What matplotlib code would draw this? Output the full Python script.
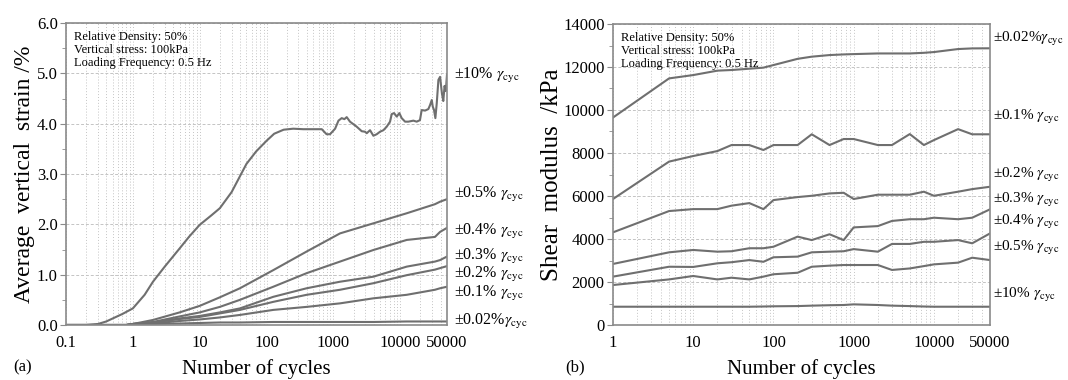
import matplotlib
matplotlib.use("Agg")
import matplotlib.pyplot as plt
from matplotlib.ticker import FixedLocator, LogLocator, NullFormatter, MultipleLocator
import matplotlib.transforms as mtransforms

plt.rcParams['font.family'] = ['Liberation Serif', 'DejaVu Serif']
plt.rcParams['mathtext.fontset'] = 'stix'

# (a) average vertical strain vs number of cycles
n_10 = [0.1, 0.2, 0.3, 0.4, 0.5, 0.7, 1, 1.5, 2, 3, 5, 7, 10, 15, 20, 30, 50, 70, 100, 130,
        180, 250, 355, 670, 790, 890, 1060, 1190, 1330, 1460, 1580, 1770, 2230, 2650, 2970,
        3150, 3530, 3960, 4440, 4980, 5590, 6270, 7030, 7450, 8070, 8850, 9690, 10500, 11800,
        13200, 15700, 17600, 19700, 20900, 23500, 26300, 27900, 29600, 30600, 32000, 33500,
        35100, 37200, 39400, 42000, 44000, 46000, 48000, 50000]
strain_10 = [0, 0, 0.02, 0.07, 0.13, 0.22, 0.33, 0.6, 0.86, 1.16, 1.52, 1.76, 1.99, 2.18, 2.32,
             2.64, 3.2, 3.45, 3.66, 3.8, 3.88, 3.9, 3.89, 3.89, 3.79, 3.79, 3.9, 4.06, 4.11,
             4.09, 4.13, 4.04, 3.94, 3.85, 3.84, 3.81, 3.87, 3.76, 3.79, 3.84, 3.87, 3.94, 4.04,
             4.19, 4.21, 4.14, 4.21, 4.11, 4.04, 4.04, 4.06, 4.04, 4.07, 4.27, 4.26, 4.29, 4.37,
             4.47, 4.34, 4.27, 4.11, 4.4, 4.87, 4.93, 4.6, 4.45, 4.75, 4.65, 4.98]

n_small = [0.1, 0.5, 0.8, 1, 2, 5, 10, 20, 40, 126, 398, 1256, 3960, 12500, 33000, 39400, 50000]
strain_05 = [0, 0, 0, 0.02, 0.1, 0.25, 0.38, 0.55, 0.73, 1.09, 1.46, 1.82, 2.02, 2.22, 2.40, 2.45, 2.5]
strain_04 = [0, 0, 0, 0.02, 0.06, 0.17, 0.25, 0.36, 0.50, 0.76, 1.03, 1.26, 1.49, 1.69, 1.75, 1.85, 1.93]
strain_03 = [0, 0, 0, 0.02, 0.05, 0.13, 0.18, 0.25, 0.33, 0.56, 0.73, 0.86, 0.96, 1.16, 1.26, 1.29, 1.36]
strain_02 = [0, 0, 0, 0.02, 0.05, 0.12, 0.16, 0.23, 0.30, 0.46, 0.60, 0.70, 0.83, 0.99, 1.10, 1.13, 1.17]
strain_01 = [0, 0, 0, 0.01, 0.03, 0.08, 0.11, 0.15, 0.20, 0.30, 0.36, 0.43, 0.53, 0.60, 0.70, 0.73, 0.76]
strain_002 = [0, 0, 0, 0.01, 0.02, 0.03, 0.04, 0.05, 0.05, 0.06, 0.06, 0.06, 0.06, 0.07, 0.07, 0.07, 0.07]

labels_a = ['±10% ', '±0.5% ', '±0.4% ', '±0.3% ', '±0.2% ', '±0.1% ', '±0.02%']
label_y_a = [4.95, 2.6, 1.86, 1.36, 1.0, 0.62, 0.06]

# (b) shear modulus vs number of cycles
n_g = [1, 5, 10, 20, 30, 50, 75, 100, 200, 300, 500, 750, 1000, 2000, 3000, 5000, 7500,
       10000, 20000, 30000, 50000]
g_002 = [9650, 11470, 11625, 11830, 11860, 11920, 11970, 12090, 12380, 12480, 12555, 12585,
         12600, 12630, 12630, 12630, 12660, 12695, 12835, 12865, 12870]
g_01 = [5860, 7600, 7860, 8090, 8370, 8370, 8140, 8370, 8370, 8870, 8370, 8650, 8650, 8370,
        8370, 8880, 8370, 8600, 9110, 8870, 8870]
g_02 = [4310, 5300, 5390, 5390, 5550, 5670, 5390, 5810, 5950, 6010, 6120, 6150, 5860, 6060,
        6060, 6060, 6200, 6010, 6200, 6320, 6430]
g_03 = [2840, 3380, 3490, 3410, 3430, 3570, 3570, 3640, 4110, 3950, 4220, 3950, 4540, 4600,
        4840, 4920, 4920, 4990, 4920, 4990, 5380]
g_04 = [2250, 2710, 2700, 2870, 2920, 3020, 2940, 3150, 3180, 3380, 3410, 3430, 3530, 3410,
        3770, 3770, 3870, 3870, 3950, 3800, 4260]
g_05 = [1860, 2120, 2280, 2120, 2200, 2120, 2250, 2360, 2430, 2710, 2760, 2790, 2790, 2790,
        2560, 2630, 2740, 2820, 2900, 3130, 3020]
g_10 = [850, 850, 850, 850, 850, 850, 860, 870, 880, 900, 920, 930, 960, 930, 900, 880, 860,
        850, 850, 850, 850]

labels_b = ['±0.02%', '±0.1% ', '±0.2% ', '±0.3% ', '±0.4% ', '±0.5% ', '±10% ']
label_y_b = [13300, 9660, 7000, 5833, 4810, 3590, 1400]

info = 'Relative Density: 50%\nVertical stress: 100kPa\nLoading Frequency: 0.5 Hz'

line_c = '#6f6f6f'
grid_c = '#c4c4c4'
spine_c = '#8a8a8a'

fig = plt.figure(figsize=(10.68, 3.8), dpi=100)
ax1 = fig.add_axes([66 / 1068, 1 - 325 / 380, 381 / 1068, 302 / 380])
ax2 = fig.add_axes([613 / 1068, 1 - 325 / 380, 377 / 1068, 301 / 380])


def style(ax, xticks, xlabels):
    ax.set_xscale('log')
    ax.xaxis.set_major_locator(FixedLocator(xticks))
    ax.set_xticklabels(xlabels)
    ax.xaxis.set_minor_locator(LogLocator(base=10, subs=range(2, 10), numticks=20))
    ax.xaxis.set_minor_formatter(NullFormatter())
    ax.grid(which='both', axis='x', color=grid_c, ls=(0, (1, 2)), lw=0.7)
    ax.grid(which='major', axis='y', color=grid_c, ls=(0, (3, 2)), lw=0.7)
    ax.set_axisbelow(True)
    for s in ax.spines.values():
        s.set_color(spine_c)
        s.set_linewidth(1.2)
    ax.tick_params(which='both', axis='x', length=0, labelsize=12, pad=7)
    ax.tick_params(which='major', axis='y', length=4, color=spine_c, labelsize=12, pad=2)
    ax.tick_params(which='minor', axis='y', length=3, color=spine_c)
    ax.set_xlabel('Number of cycles', fontsize=15, labelpad=6)
    ax.text(0.02, 0.975, info, transform=ax.transAxes, fontsize=9, va='top', ha='left',
            linespacing=1.15)


# panel (a)
style(ax1, [0.1, 1, 10, 100, 1000, 10000, 50000], ['0.1', '1', '10', '100', '1000', '10000', '50000'])
ax1.plot(n_10, strain_10, color=line_c, lw=1.5)
for s in [strain_05, strain_04, strain_03, strain_02, strain_01, strain_002]:
    ax1.plot(n_small, s, color=line_c, lw=1.5)
ax1.set_xlim(0.1, 50000)
ax1.set_ylim(0, 6)
ax1.yaxis.set_major_locator(MultipleLocator(1))
ax1.yaxis.set_minor_locator(MultipleLocator(0.5))
ax1.set_yticklabels(['%.1f' % v for v in ax1.get_yticks()])
ax1.set_ylabel('Average  vertical  strain /%', fontsize=17, labelpad=1)
tr1 = mtransforms.blended_transform_factory(ax1.transAxes, ax1.transData)
for lab, yv in zip(labels_a, label_y_a):
    ax1.text(1.018, yv, lab + r'$\gamma_{\rm cyc}$', transform=tr1, fontsize=11.5,
             va='center', ha='left')
fig.text(13 / 1068, 1 - 367 / 380, '(a)', fontsize=12, va='center', ha='left')

# panel (b)
style(ax2, [1, 10, 100, 1000, 10000, 50000], ['1', '10', '100', '1000', '10000', '50000'])
for g in [g_002, g_01, g_02, g_03, g_04, g_05, g_10]:
    ax2.plot(n_g, g, color=line_c, lw=1.5)
ax2.set_xlim(1, 50000)
ax2.set_ylim(0, 14000)
ax2.yaxis.set_major_locator(MultipleLocator(2000))
ax2.yaxis.set_minor_locator(MultipleLocator(1000))
ax2.set_ylabel('Shear  modulus  /kPa', fontsize=18, labelpad=0)
tr2 = mtransforms.blended_transform_factory(ax2.transAxes, ax2.transData)
for lab, yv in zip(labels_b, label_y_b):
    ax2.text(1.008, yv, lab + r'$\gamma_{\rm cyc}$', transform=tr2, fontsize=11,
             va='center', ha='left')
fig.text(565 / 1068, 1 - 367 / 380, '(b)', fontsize=12, va='center', ha='left')

fig.savefig('out.png', dpi=100)
